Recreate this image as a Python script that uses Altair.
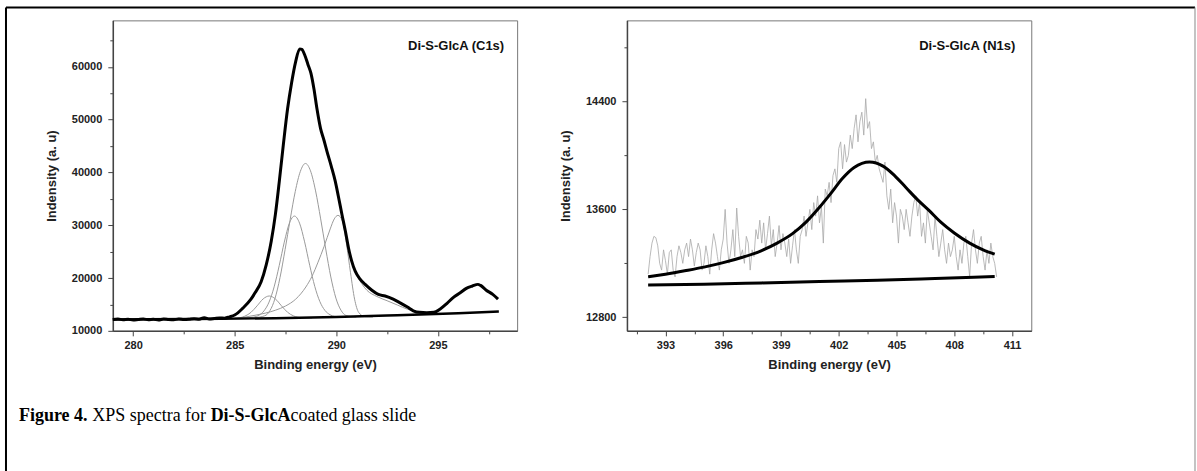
import altair as alt
import pandas as pd

# ---------------- C1s panel (left) ----------------
c1s_energy = [279.0, 279.25, 279.5, 279.75, 280.0, 280.25, 280.5, 280.75, 281.0, 281.25,
              281.5, 281.75, 282.0, 282.25, 282.5, 282.75, 283.0, 283.25, 283.5, 283.75,
              284.0, 284.25, 284.5, 284.75, 285.0, 285.4, 285.8, 286.0, 286.3, 286.55,
              286.8, 287.0, 287.2, 287.4, 287.6, 287.8, 288.0, 288.2, 288.3, 288.45,
              288.6, 288.75, 288.9, 289.05, 289.22, 289.4, 289.54, 289.75, 289.95, 290.1,
              290.28, 290.45, 290.6, 290.75, 290.93, 291.15, 291.42, 291.75, 292.07, 292.4,
              292.8, 293.14, 293.5, 293.79, 294.1, 294.45, 294.8, 295.1, 295.45, 295.75,
              296.1, 296.4, 296.7, 296.97, 297.1, 297.38, 297.7, 297.96]
c1s_intensity = [12150, 12250, 12100, 12200, 12050, 12150, 12250, 12100, 12200, 12050,
                 12250, 12150, 12100, 12250, 12150, 12200, 12300, 12200, 12500, 12250,
                 12350, 12450, 12400, 12650, 13000, 14300, 16000, 17200, 19300, 22500,
                 27000, 32000, 38500, 45500, 52000, 57000, 61000, 63400, 63300, 62200,
                 60500, 58800, 55800, 52000, 48400, 46000, 44000, 41200, 38300, 35500,
                 32000, 28800, 25700, 23300, 21300, 19900, 18800, 17700, 16900, 16600,
                 16000, 15300, 14500, 13800, 13500, 13450, 13500, 14100, 15200, 16300,
                 17200, 18050, 18500, 18800, 18600, 17700, 16900, 16000]

c1s_bg_energy = [279.0, 283.0, 287.0, 290.0, 293.0, 296.0, 298.0]
c1s_bg_intensity = [12150, 12250, 12400, 12600, 12950, 13350, 13650]

peak_a_energy = [285.0, 285.5, 285.8, 286.1, 286.4, 286.7, 287.0, 287.3, 287.6, 287.9, 288.3, 288.8]
peak_a_intensity = [12340, 12780, 13500, 14730, 16050, 16600, 16050, 14750, 13520, 12820, 12480, 12440]

peak_b_energy = [285.44, 285.94, 286.19, 286.44, 286.69, 286.94, 287.19, 287.44, 287.69, 287.94,
                 288.19, 288.44, 288.69, 288.94, 289.19, 289.44, 289.69, 289.94, 290.44]
peak_b_intensity = [12440, 12600, 12950, 13780, 15450, 18330, 22350, 26800, 30380, 31740,
                    30400, 26850, 22420, 18420, 15550, 13870, 13050, 12700, 12560]

peak_c_energy = [285.98, 286.48, 286.73, 286.98, 287.23, 287.48, 287.73, 287.98, 288.23, 288.48,
                 288.73, 288.98, 289.23, 289.48, 289.73, 289.98, 290.23, 290.48, 290.98]
peak_c_intensity = [12500, 12850, 13800, 16100, 20100, 25400, 31100, 36400, 40200, 41700,
                    40300, 36500, 31200, 25500, 20200, 16200, 13900, 12900, 12600]

peak_d_energy = [285.0, 285.5, 286.0, 286.5, 287.0, 287.5, 288.0, 288.5, 288.8, 289.1,
                 289.4, 289.7, 289.9, 290.08, 290.3, 290.5, 290.7, 290.9, 291.1, 291.4, 291.8]
peak_d_intensity = [12350, 12600, 12950, 13350, 13900, 14700, 16000, 18300, 20300, 23000,
                    26000, 29300, 31200, 31870, 30800, 26500, 21000, 16000, 13500, 12700, 12600]

envelope_energy = [291.0, 291.5, 292.0, 292.5, 293.0, 293.5, 294.0, 294.5]
envelope_intensity = [20500, 17700, 16500, 15700, 14900, 14100, 13600, 13300]

# ---------------- N1s panel (right) ----------------
n1s_intensity = [
    13120, 13250, 13350, 13400, 13390, 13330, 13200, 13150, 13300, 13220,
    13120, 13280, 13300, 13150, 13100, 13250, 13330, 13280, 13200, 13300,
    13350, 13250, 13380, 13300, 13180, 13280, 13350, 13300, 13150, 13200,
    13330, 13250, 13120, 13300, 13420, 13350, 13250, 13150, 13300, 13380,
    13600, 13350, 13200, 13300, 13450, 13250, 13610, 13400, 13250, 13300,
    13200, 13400, 13350, 13150, 13300, 13250, 13450, 13380, 13520, 13350,
    13500, 13300, 13420, 13550, 13330, 13450, 13250, 13350, 13480, 13300,
    13420, 13350, 13250, 13380, 13200, 13330, 13450, 13300, 13200, 13400,
    13450, 13550, 13400, 13500, 13600, 13450, 13650, 13550, 13700, 13500,
    13620, 13350, 13750, 13700, 13800, 13650, 13850, 13900, 13800, 14050,
    14100, 13900, 14080, 13950, 14000, 14150, 14050, 14200, 14300, 14100,
    14250, 14320, 14150, 14420, 14200, 14250, 14050, 14100, 13950, 14000,
    13900, 13850, 13800, 13950, 13700, 13600, 13750, 13500, 13650, 13550,
    13350, 13600, 13550, 13450, 13600, 13500, 13400, 13550, 13650, 13700,
    13550, 13650, 13400, 13500, 13350, 13600, 13500, 13400, 13300, 13550,
    13400, 13250, 13350, 13450, 13300, 13200, 13350, 13250, 13300, 13400,
    13250, 13150, 13300, 13200, 13350, 13400, 13250, 13100, 13350, 13450,
    13300, 13200, 13350, 13400, 13250, 13150, 13300, 13200, 13350, 13250,
    13200, 13100]
n1s_energy = [round(392.1 + 0.1 * k, 1) for k in range(len(n1s_intensity))]

n1s_fit_energy = [392.1, 393.0, 394.0, 395.0, 396.0, 397.0, 398.0, 398.8, 399.6, 400.3,
                  401.0, 401.6, 402.2, 402.8, 403.6, 404.3, 404.9, 405.5, 406.1, 406.7,
                  407.3, 408.0, 408.8, 409.5, 410.1]
n1s_fit_intensity = [13100, 13120, 13145, 13172, 13205, 13245, 13295, 13350, 13420, 13505,
                     13615, 13720, 13830, 13910, 13950, 13920, 13850, 13760, 13670, 13590,
                     13505, 13425, 13350, 13300, 13268]

n1s_bg_energy = [392.1, 395.0, 398.0, 401.0, 404.0, 407.0, 410.1]
n1s_bg_intensity = [13040, 13045, 13055, 13065, 13075, 13088, 13103]

c1s_xticks = [280, 282.5, 285, 287.5, 290, 292.5, 295, 297.5]
c1s_yticks = [10000, 15000, 20000, 25000, 30000, 35000, 40000, 45000, 50000, 55000, 60000, 65000]
n1s_xticks = [391.5, 393, 394.5, 396, 397.5, 399, 400.5, 402, 403.5, 405, 406.5, 408, 409.5, 411]
n1s_yticks = [12800, 13200, 13600, 14000, 14400, 14800]

caption_parts = ["Figure 4.", "XPS spectra for", "Di-S-GlcA", "coated glass slide"]
caption_bold = [True, False, True, False]

W, H = 405, 311
LX0, LY0 = 112, 19  # page position of the left plot area


def df(e, i):
    return pd.DataFrame({"E": e, "I": i})


one = pd.DataFrame({"k": [0]})


def axis_x(values, major_test, title):
    return alt.Axis(values=values, format="d", title=title,
                    labelExpr=f"{major_test} ? datum.label : ''",
                    tickSize={"condition": {"test": major_test, "value": 5}, "value": 3},
                    labelPadding=4, titlePadding=8)


def axis_y(values, major_test, title):
    return alt.Axis(values=values, format="d", title=title,
                    labelExpr=f"{major_test} ? datum.label : ''",
                    tickSize={"condition": {"test": major_test, "value": 5}, "value": 3},
                    labelPadding=6, titlePadding=13)


# ---- left panel ----
xL = alt.X("E:Q", scale=alt.Scale(domain=[279, 298.9], nice=False, zero=False),
           axis=axis_x(c1s_xticks, "datum.value % 5 == 0", "Binding energy (eV)"))
yL = alt.Y("I:Q", scale=alt.Scale(domain=[10000, 68800], nice=False, zero=False),
           axis=axis_y(c1s_yticks, "datum.value % 10000 == 0", "Indensity (a. u)"))

# transparent page-sized frame that fixes the chart's outer bounds
page_box = alt.Chart(one).mark_rect(fill="white", fillOpacity=0, strokeWidth=0).encode(
    x=alt.value(-LX0), x2=alt.value(1197 - LX0), y=alt.value(-LY0), y2=alt.value(471 - LY0))
border_left = alt.Chart(one).mark_rule(color="black", strokeWidth=2).encode(
    x=alt.value(5 - LX0), y=alt.value(6 - LY0), y2=alt.value(471 - LY0))
border_top = alt.Chart(one).mark_rule(color="black", strokeWidth=2).encode(
    x=alt.value(5 - LX0), x2=alt.value(1196 - LX0), y=alt.value(6 - LY0))
border_right = alt.Chart(one).mark_rule(color="#888", strokeWidth=1).encode(
    x=alt.value(1196 - LX0), y=alt.value(6 - LY0), y2=alt.value(471 - LY0))

cap_x = [18, 91.5, 210, 290]
caption_layers = []
for part, bold, cx in zip(caption_parts, caption_bold, cap_x):
    caption_layers.append(
        alt.Chart(pd.DataFrame({"t": [part]})).mark_text(
            font="Liberation Serif", fontSize=18, fontWeight="bold" if bold else "normal",
            align="left", baseline="alphabetic", color="black").encode(
            text="t:N", x=alt.value(cx - LX0), y=alt.value(420 - LY0)))

comp_style = dict(color="#9a9a9a", strokeWidth=1, interpolate="monotone")
comps = [alt.Chart(df(e, i)).mark_line(**comp_style).encode(x=xL, y=yL)
         for e, i in [(peak_a_energy, peak_a_intensity), (peak_b_energy, peak_b_intensity),
                      (peak_c_energy, peak_c_intensity), (peak_d_energy, peak_d_intensity),
                      (envelope_energy, envelope_intensity)]]
c1s_bg = alt.Chart(df(c1s_bg_energy, c1s_bg_intensity)).mark_line(
    color="black", strokeWidth=2.5, interpolate="monotone").encode(x=xL, y=yL)
c1s_line = alt.Chart(df(c1s_energy, c1s_intensity)).mark_line(
    color="black", strokeWidth=3, interpolate="monotone", strokeJoin="round").encode(x=xL, y=yL)
c1s_label = alt.Chart(pd.DataFrame({"t": ["Di-S-GlcA (C1s)"]})).mark_text(
    font="Liberation Sans", fontSize=13, fontWeight="bold", align="right",
    baseline="middle", color="#111").encode(text="t:N", x=alt.value(392), y=alt.value(26))

left = alt.layer(page_box, border_left, border_top, border_right, *caption_layers,
                 *comps, c1s_bg, c1s_line, c1s_label).properties(width=W, height=H)

# ---- right panel ----
xR = alt.X("E:Q", scale=alt.Scale(domain=[391, 412], nice=False, zero=False),
           axis=axis_x(n1s_xticks, "(datum.value - 393) % 3 == 0", "Binding energy (eV)"))
yR = alt.Y("I:Q", scale=alt.Scale(domain=[12700, 15000], nice=False, zero=False),
           axis=axis_y(n1s_yticks, "(datum.value - 12800) % 800 == 0", "Indensity (a. u)"))

n1s_raw = alt.Chart(df(n1s_energy, n1s_intensity)).mark_line(
    color="#a8a8a8", strokeWidth=0.8).encode(x=xR, y=yR)
n1s_fit = alt.Chart(df(n1s_fit_energy, n1s_fit_intensity)).mark_line(
    color="black", strokeWidth=3, interpolate="monotone").encode(x=xR, y=yR)
n1s_bg = alt.Chart(df(n1s_bg_energy, n1s_bg_intensity)).mark_line(
    color="black", strokeWidth=3, interpolate="monotone").encode(x=xR, y=yR)
n1s_label = alt.Chart(pd.DataFrame({"t": ["Di-S-GlcA (N1s)"]})).mark_text(
    font="Liberation Sans", fontSize=13, fontWeight="bold", align="right",
    baseline="middle", color="#111").encode(text="t:N", x=alt.value(389), y=alt.value(26))

right = alt.layer(n1s_raw, n1s_fit, n1s_bg, n1s_label).properties(width=W, height=H)

chart = alt.hconcat(left, right, spacing=110, bounds="flush").properties(
    padding=0, background="white"
).configure_view(stroke="#777", strokeWidth=1).configure_axis(
    grid=False, labelFont="Liberation Sans", labelFontWeight="bold", labelFontSize=11,
    labelColor="#222", titleFont="Liberation Sans", titleFontWeight="bold", titleFontSize=13,
    titleColor="#222", domainColor="#444", domainWidth=1.5, tickColor="#444", tickWidth=1
)

chart.save("out.html", embed_options={"renderer": "svg", "actions": False})
